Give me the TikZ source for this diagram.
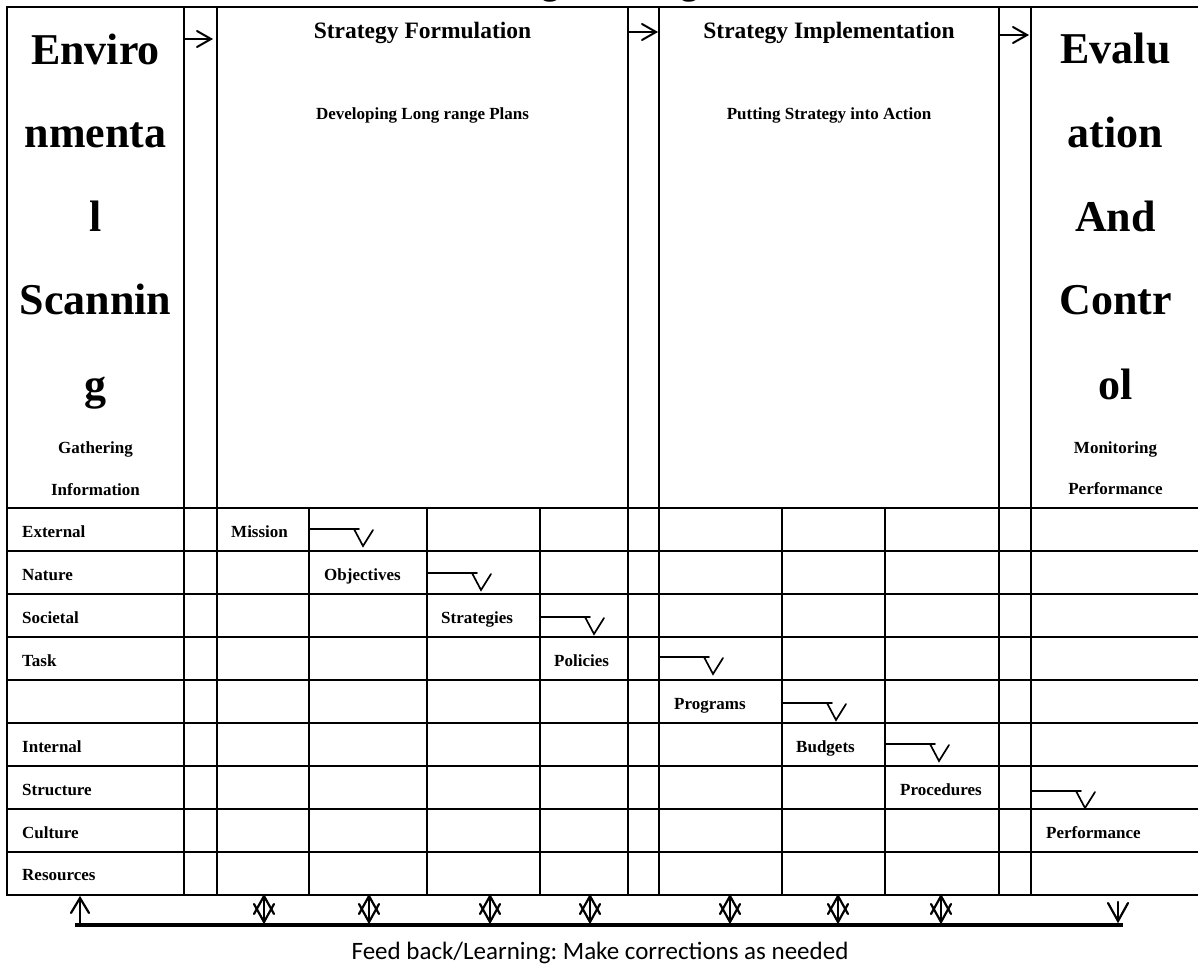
\documentclass[tikz,border=0pt]{standalone}
\usepackage{fontspec}
\setmainfont{Liberation Serif}
\newfontfamily\feedfont{Carlito}
\frenchspacing
\begin{document}
\begin{tikzpicture}[x=1pt,y=-1pt,
  grid/.style={line width=1.3pt},
  flow/.style={line width=1.7pt, line cap=round, line join=miter},
  big/.style={font=\fontsize{44}{44}\selectfont\bfseries, anchor=base, inner sep=0pt},
  mid/.style={font=\fontsize{23.5}{24}\selectfont\bfseries, anchor=base, inner sep=0pt},
  small/.style={font=\fontsize{17}{17}\selectfont\bfseries, anchor=base, inner sep=0pt},
  cell/.style={font=\fontsize{17}{17}\selectfont\bfseries, anchor=base west, inner sep=0pt},
  vconn/.pic={
    \draw[flow] (0,0) -- (50,0);
    \draw[flow] (45,0) -- (54,17) -- (64,1);
  },
  fbarrow/.pic={
    \draw[flow, line width=2.2pt] (0,-13) -- (0,13);
    \draw[flow, line width=2.2pt] (-10,5) -- (0,-13) -- (10,5);
    \draw[flow, line width=2.2pt] (-10,-5) -- (0,13) -- (10,-5);
  },
  hdarrow/.pic={
    \draw[flow, line width=2pt] (0,0) -- (27,0);
    \draw[flow, line width=2pt] (13,-8) -- (27,0) -- (13,8);
  }
]
\useasboundingbox (0,0) rectangle (1198,965);

% heading text, mostly above the sheet
\node[font=\fontsize{35}{35}\selectfont\bfseries, anchor=base west, inner sep=0pt] (title) at (450,-5) {Strategic Management};

% ---- table frame ----
\draw[grid] (7,7) rectangle (1200,895);
\foreach \x in {184,217,628,659,999,1031}
  \draw[grid] (\x,7) -- (\x,895);
\foreach \x in {309,427,540,782,885}
  \draw[grid] (\x,508) -- (\x,895);
\foreach \y in {508,551,594,637,680,723,766,809,852}
  \draw[grid] (7,\y) -- (1200,\y);

% ---- header columns ----
\node[big] (env1) at (95.5,65)  {Enviro};
\node[big] (env2) at (95.5,148) {nmenta};
\node[big] (env3) at (95.5,232) {l};
\node[big] (env4) at (95.5,315) {Scannin};
\node[big] (env5) at (95.5,399) {g};
\node[small] (envs1) at (95.5,453) {Gathering};
\node[small] (envs2) at (95.5,495) {Information};

\node[mid] (form) at (422.5,39) {Strategy Formulation};
\node[small] (forms) at (422.5,120) {Developing Long range Plans};

\node[mid] (impl) at (829,39) {Strategy Implementation};
\node[small] (impls) at (829,120) {Putting Strategy into Action};

\node[big] (eva1) at (1115.5,64)  {Evalu};
\node[big] (eva2) at (1115.5,148) {ation};
\node[big] (eva3) at (1115.5,232) {And};
\node[big] (eva4) at (1115.5,315) {Contr};
\node[big] (eva5) at (1115.5,399) {ol};
\node[small] (evas1) at (1115.5,453) {Monitoring};
\node[small] (evas2) at (1115.5,494) {Performance};

% arrows between the stages
\coordinate (ha1) at (184,39);
\coordinate (ha2) at (629,32);
\coordinate (ha3) at (1000,35);
\pic at (ha1) {hdarrow};
\pic at (ha2) {hdarrow};
\pic at (ha3) {hdarrow};

% ---- left column entries ----
\node[cell] (ext)  at (22,537) {External};
\node[cell] (nat)  at (22,580) {Nature};
\node[cell] (soc)  at (22,623) {Societal};
\node[cell] (task) at (22,666) {Task};
\node[cell] (int)  at (22,752) {Internal};
\node[cell] (str)  at (22,795) {Structure};
\node[cell] (cul)  at (22,838) {Culture};
\node[cell] (res)  at (22,880) {Resources};

% ---- staircase of elements ----
\node[cell] (mis) at (231,537) {Mission};
\node[cell] (obj) at (324,580) {Objectives};
\node[cell] (stg) at (441,623) {Strategies};
\node[cell] (pol) at (554,666) {Policies};
\node[cell] (prg) at (674,709) {Programs};
\node[cell] (bud) at (796,752) {Budgets};
\node[cell] (prc) at (900,795) {Procedures};
\node[cell] (prf) at (1046,838) {Performance};

\coordinate (k1) at (309,529);
\coordinate (k2) at (427,573);
\coordinate (k3) at (540,617);
\coordinate (k4) at (659,657);
\coordinate (k5) at (782,703);
\coordinate (k6) at (885,744);
\coordinate (k7) at (1031,791);
\foreach \k in {k1,k2,k3,k4,k5,k6,k7}
  \pic at (\k) {vconn};

% ---- feedback loop ----
\coordinate (fbL) at (75,925);
\coordinate (fbR) at (1123,925);
\draw[line width=4pt] (fbL) -- (fbR);
\coordinate (upA) at (80,925);
\draw[flow, line width=2.2pt] (upA) -- ++(0,-27);
\draw[flow, line width=2.2pt] (71,913) -- (80,898) -- (89,913);
\coordinate (dnA) at (1118,902);
\draw[flow, line width=2.2pt] (dnA) -- ++(0,19);
\draw[flow, line width=2.2pt] (1108,903) -- (1118,921) -- (1128,903);
\foreach \x in {264,369,490,590,730,838,941}
  \pic at (\x,909) {fbarrow};

\node[font=\feedfont\fontsize{25}{25}\selectfont, anchor=base, inner sep=0pt] (fbtext) at (600,959)
  {Feed back/Learning: Make corrections as needed};
\end{tikzpicture}
\end{document}
